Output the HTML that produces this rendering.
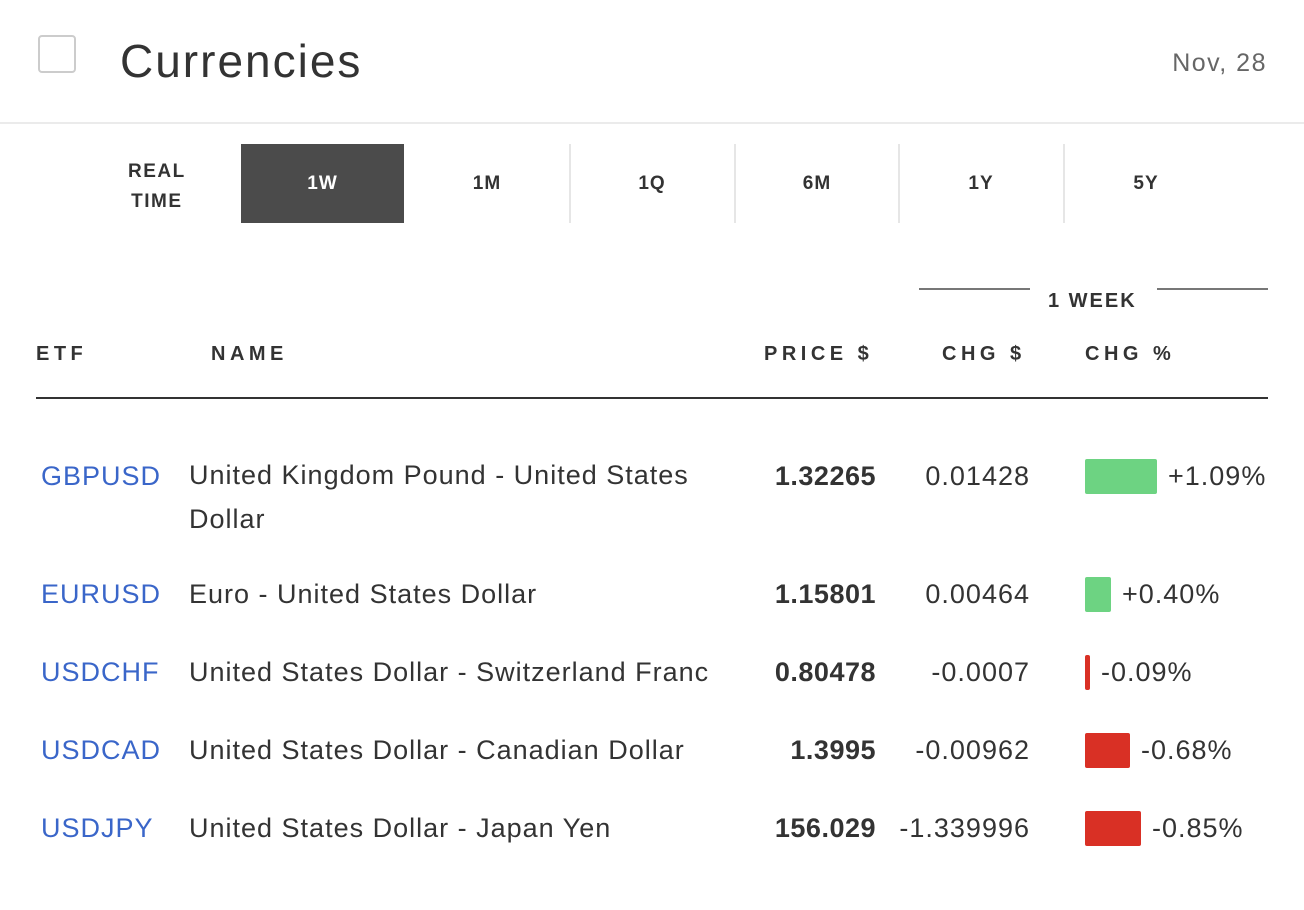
<!DOCTYPE html><html><head><style>
body{margin:0;width:1304px;height:910px;background:#fff;position:relative;font-family:"Liberation Sans",sans-serif;color:#333;overflow:hidden}
.a{position:absolute;line-height:1;white-space:nowrap}
.t{font-size:27px;letter-spacing:1px}
.b{font-weight:bold;letter-spacing:0.5px}
.l{color:#3a66c9}
.h{font-size:20px;font-weight:bold;letter-spacing:4.5px}
.tab{position:absolute;top:144px;height:79px;width:164px;font-size:19px;font-weight:bold;display:flex;align-items:center;justify-content:center;color:#333;letter-spacing:1px}
.sep{position:absolute;top:144px;height:79px;width:2px;background:#e6e6e6}
.bar{position:absolute;height:35px;border-radius:2px}
.g{background:#6dd382}.r{background:#d93025}
.rt{text-align:right}
</style></head><body>
<div style="position:absolute;left:38px;top:35px;width:38px;height:38px;border:2px solid #ccc;border-radius:4px;box-sizing:border-box"></div>
<div class="a" style="left:120px;top:38px;font-size:46px;color:#333;letter-spacing:2px">Currencies</div>
<div class="a" style="right:37px;top:51px;font-size:25px;color:#666;letter-spacing:1.5px">Nov, 28</div>
<div style="position:absolute;left:0;top:122px;width:1304px;height:2px;background:#ebebeb"></div>
<div class="a" style="left:128px;top:157px;font-size:19px;font-weight:bold;line-height:30px;text-align:center;letter-spacing:1.5px">REAL<br>TIME</div>
<div class="tab" style="left:241px;width:163px;background:#4b4b4b;color:#fff">1W</div>
<div class="tab" style="left:405px">1M</div>
<div class="sep" style="left:569px"></div>
<div class="tab" style="left:570px">1Q</div>
<div class="sep" style="left:734px"></div>
<div class="tab" style="left:735px">6M</div>
<div class="sep" style="left:898px"></div>
<div class="tab" style="left:899px">1Y</div>
<div class="sep" style="left:1063px"></div>
<div class="tab" style="left:1064px">5Y</div>
<div style="position:absolute;left:919px;top:288px;width:111px;height:2px;background:#777"></div>
<div style="position:absolute;left:1157px;top:288px;width:111px;height:2px;background:#777"></div>
<div class="a" style="left:1048px;top:291px;font-size:20px;font-weight:bold;letter-spacing:2px">1 WEEK</div>
<div class="a h" style="left:36px;top:344px">ETF</div>
<div class="a h" style="left:211px;top:344px">NAME</div>
<div class="a h" style="left:764px;top:344px">PRICE $</div>
<div class="a h" style="left:942px;top:344px">CHG $</div>
<div class="a h" style="left:1085px;top:344px">CHG %</div>
<div style="position:absolute;left:36px;top:397px;width:1232px;height:2px;background:#333"></div>

<div class="a t l" style="left:41px;top:463px">GBPUSD</div>
<div class="a t" style="left:189px;top:463px;line-height:44px;margin-top:-10px">United Kingdom Pound - United States<br>Dollar</div>
<div class="a t b rt" style="right:428px;top:463px">1.32265</div>
<div class="a t rt" style="right:274px;top:463px">0.01428</div>
<div class="bar g" style="left:1085px;top:459px;width:72px"></div>
<div class="a t" style="left:1168px;top:463px">+1.09%</div>

<div class="a t l" style="left:41px;top:581px">EURUSD</div>
<div class="a t" style="left:189px;top:581px">Euro - United States Dollar</div>
<div class="a t b rt" style="right:428px;top:581px">1.15801</div>
<div class="a t rt" style="right:274px;top:581px">0.00464</div>
<div class="bar g" style="left:1085px;top:577px;width:26px"></div>
<div class="a t" style="left:1122px;top:581px">+0.40%</div>

<div class="a t l" style="left:41px;top:659px">USDCHF</div>
<div class="a t" style="left:189px;top:659px">United States Dollar - Switzerland Franc</div>
<div class="a t b rt" style="right:428px;top:659px">0.80478</div>
<div class="a t rt" style="right:274px;top:659px">-0.0007</div>
<div class="bar r" style="left:1085px;top:655px;width:5px"></div>
<div class="a t" style="left:1101px;top:659px">-0.09%</div>

<div class="a t l" style="left:41px;top:737px">USDCAD</div>
<div class="a t" style="left:189px;top:737px">United States Dollar - Canadian Dollar</div>
<div class="a t b rt" style="right:428px;top:737px">1.3995</div>
<div class="a t rt" style="right:274px;top:737px">-0.00962</div>
<div class="bar r" style="left:1085px;top:733px;width:45px"></div>
<div class="a t" style="left:1141px;top:737px">-0.68%</div>

<div class="a t l" style="left:41px;top:815px">USDJPY</div>
<div class="a t" style="left:189px;top:815px">United States Dollar - Japan Yen</div>
<div class="a t b rt" style="right:428px;top:815px">156.029</div>
<div class="a t rt" style="right:274px;top:815px">-1.339996</div>
<div class="bar r" style="left:1085px;top:811px;width:56px"></div>
<div class="a t" style="left:1152px;top:815px">-0.85%</div>
</body></html>
